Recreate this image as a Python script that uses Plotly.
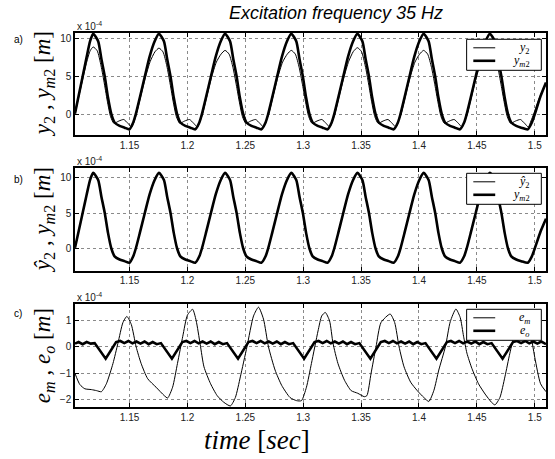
import plotly.graph_objects as go

# ---------------- data ----------------
# time values and y_m2 (thick, x1e-4 m)
t_ym2 = [1.1029, 1.1060, 1.1095, 1.1130, 1.1160, 1.1186,
         1.1229, 1.1257, 1.1286, 1.1314, 1.1343, 1.1371, 1.1414, 1.1457, 1.1500,
         1.1532, 1.1554, 1.1589, 1.1632, 1.1674, 1.1717, 1.1754,
         1.1797, 1.1825, 1.1854, 1.1882, 1.1911, 1.1939, 1.1982, 1.2025, 1.2068,
         1.2103, 1.2125, 1.2160, 1.2203, 1.2245, 1.2288, 1.2325,
         1.2368, 1.2396, 1.2425, 1.2453, 1.2482, 1.2510, 1.2553, 1.2596, 1.2639,
         1.2675, 1.2697, 1.2732, 1.2775, 1.2817, 1.2860, 1.2897,
         1.2940, 1.2968, 1.2997, 1.3025, 1.3054, 1.3082, 1.3125, 1.3168, 1.3211,
         1.3246, 1.3268, 1.3303, 1.3346, 1.3388, 1.3431, 1.3468,
         1.3511, 1.3539, 1.3568, 1.3596, 1.3625, 1.3653, 1.3696, 1.3739, 1.3782,
         1.3818, 1.3840, 1.3875, 1.3918, 1.3960, 1.4003, 1.4040,
         1.4083, 1.4111, 1.4140, 1.4168, 1.4197, 1.4225, 1.4268, 1.4311, 1.4354,
         1.4390, 1.4412, 1.4447, 1.4490, 1.4532, 1.4575, 1.4612,
         1.4655, 1.4683, 1.4712, 1.4740, 1.4769, 1.4797, 1.4840, 1.4883, 1.4940,
         1.4975, 1.5000, 1.5050, 1.5097]
ym2 = [0.1, 2.4, 5.0, 7.6, 9.7, 10.65,
       9.65, 7.3, 5.0, 2.2, 0.0, -1.1, -1.55, -1.78, -2.0,
       -1.1, 0.0, 2.2, 5.0, 7.65, 9.65, 10.65,
       9.65, 7.3, 5.0, 2.2, 0.0, -1.1, -1.55, -1.78, -2.0,
       -1.1, 0.0, 2.2, 5.0, 7.65, 9.65, 10.65,
       9.65, 7.3, 5.0, 2.2, 0.0, -1.1, -1.55, -1.78, -2.0,
       -1.1, 0.0, 2.2, 5.0, 7.65, 9.65, 10.65,
       9.65, 7.3, 5.0, 2.2, 0.0, -1.1, -1.55, -1.78, -2.0,
       -1.1, 0.0, 2.2, 5.0, 7.65, 9.65, 10.65,
       9.65, 7.3, 5.0, 2.2, 0.0, -1.1, -1.55, -1.78, -2.0,
       -1.1, 0.0, 2.2, 5.0, 7.65, 9.65, 10.65,
       9.65, 7.3, 5.0, 2.2, 0.0, -1.1, -1.55, -1.78, -2.0,
       -1.1, 0.0, 2.2, 5.0, 7.65, 9.65, 10.65,
       9.65, 7.3, 5.0, 2.2, 0.0, -1.1, -1.55, -1.78, -2.0,
       -1.1, 0.0, 2.4, 4.2]

# y_2 (thin, measured)
t_y2 = [1.1029, 1.1060, 1.1095, 1.1130, 1.1160, 1.1186,
        1.1221, 1.1254, 1.1283, 1.1311, 1.1336, 1.1365, 1.1408, 1.1450, 1.1486, 1.1519, 1.1541,
        1.1559, 1.1594, 1.1636, 1.1679, 1.1719, 1.1754,
        1.1789, 1.1822, 1.1851, 1.1879, 1.1904, 1.1933, 1.1976, 1.2018, 1.2054, 1.2087, 1.2109,
        1.2130, 1.2165, 1.2207, 1.2250, 1.2290, 1.2325,
        1.2360, 1.2393, 1.2422, 1.2450, 1.2475, 1.2504, 1.2547, 1.2589, 1.2625, 1.2658, 1.2680,
        1.2702, 1.2737, 1.2779, 1.2822, 1.2862, 1.2897,
        1.2932, 1.2965, 1.2994, 1.3022, 1.3047, 1.3076, 1.3119, 1.3161, 1.3197, 1.3230, 1.3252,
        1.3273, 1.3308, 1.3350, 1.3393, 1.3433, 1.3468,
        1.3503, 1.3536, 1.3565, 1.3593, 1.3618, 1.3647, 1.3690, 1.3732, 1.3768, 1.3801, 1.3823,
        1.3845, 1.3880, 1.3922, 1.3965, 1.4005, 1.4040,
        1.4075, 1.4108, 1.4137, 1.4165, 1.4190, 1.4219, 1.4262, 1.4304, 1.4340, 1.4373, 1.4395,
        1.4417, 1.4452, 1.4494, 1.4537, 1.4577, 1.4612,
        1.4647, 1.4680, 1.4709, 1.4737, 1.4762, 1.4791, 1.4834, 1.4876, 1.4912, 1.4945, 1.4967,
        1.4990, 1.5040, 1.5097]
y2 = [0.0, 2.2, 4.6, 6.9, 8.4, 8.9,
      8.4, 6.4, 4.0, 1.5, -0.3, -1.2, -0.9, -0.7, -1.2, -1.7, -0.9,
      0.0, 2.2, 4.8, 7.0, 8.25, 8.75,
      8.25, 6.4, 4.0, 1.5, -0.3, -1.2, -0.9, -0.7, -1.2, -1.7, -0.9,
      0.0, 2.2, 4.8, 6.9, 7.95, 8.45,
      7.95, 6.2, 3.9, 1.5, -0.3, -1.2, -0.9, -0.7, -1.2, -1.7, -0.9,
      0.0, 2.2, 4.8, 6.9, 7.95, 8.45,
      7.95, 6.2, 3.9, 1.5, -0.3, -1.2, -0.9, -0.7, -1.2, -1.7, -0.9,
      0.0, 2.2, 4.8, 7.0, 8.3, 8.8,
      8.3, 6.4, 4.0, 1.5, -0.3, -1.2, -0.9, -0.7, -1.2, -1.7, -0.9,
      0.0, 2.2, 4.8, 6.9, 7.95, 8.45,
      7.95, 6.2, 3.9, 1.5, -0.3, -1.2, -0.9, -0.7, -1.2, -1.7, -0.9,
      0.0, 2.2, 4.8, 6.95, 8.1, 8.6,
      8.1, 6.3, 3.9, 1.5, -0.3, -1.2, -0.9, -0.7, -1.2, -1.7, -0.9,
      0.0, 2.2, 4.0]

# estimated y_2 (hat) - visually identical to y_m2 in panel b
t_yhat2 = list(t_ym2)
yhat2 = list(ym2)

# e_m (thin)
t_em = [1.1029, 1.1071, 1.1114, 1.1170, 1.1215, 1.1257, 1.1300, 1.1357, 1.1400, 1.1443,
        1.1477, 1.1515, 1.1557, 1.1600, 1.1657, 1.1729, 1.1800, 1.1829, 1.1872, 1.1914,
        1.1960, 1.2000, 1.2045, 1.2075, 1.2110, 1.2143, 1.2200, 1.2257, 1.2314, 1.2371,
        1.2414, 1.2457, 1.2514, 1.2571, 1.2614, 1.2657, 1.2700, 1.2757, 1.2814, 1.2886,
        1.2943, 1.2985, 1.3028, 1.3071, 1.3128, 1.3160, 1.3191, 1.3228, 1.3257, 1.3300,
        1.3357, 1.3414, 1.3471, 1.3528, 1.3550, 1.3586, 1.3629, 1.3672, 1.3751, 1.3790,
        1.3828, 1.3871, 1.3928, 1.3985, 1.4042, 1.4085, 1.4128, 1.4171, 1.4228, 1.4270,
        1.4319, 1.4356, 1.4385, 1.4414, 1.4457, 1.4514, 1.4571, 1.4628, 1.4656, 1.4699,
        1.4742, 1.4785, 1.4828, 1.4870, 1.4915, 1.4960, 1.5000, 1.5050, 1.5097]
em = [-1.01, -1.43, -1.59, -1.62, -1.66, -1.70, -1.40, -0.63, 0.14, 0.92,
      1.15, 0.85, 0.00, -0.63, -1.21, -1.53, -1.85, -1.94, -1.53, -0.63,
      0.40, 1.20, 1.42, 1.00, 0.10, -0.76, -1.40, -1.85, -2.10, -2.24,
      -1.92, -1.14, 0.00, 1.17, 1.50, 1.05, 0.00, -0.88, -1.46, -1.92,
      -2.04, -2.04, -1.53, -0.63, 0.60, 1.17, 1.30, 0.98, 0.14, -0.63,
      -1.27, -1.66, -1.76, -1.89, -1.85, -1.01, 0.00, 0.92, 1.24, 0.92,
      0.00, -0.76, -1.34, -1.66, -1.92, -2.07, -1.66, -0.88, 0.00, 0.95,
      1.43, 1.11, 0.40, -0.24, -0.82, -1.40, -1.79, -2.11, -2.20, -1.92,
      -1.14, -0.24, 0.53, 1.05, 1.30, 0.60, -0.40, -1.40, -1.70]

# e_o (thick)
t_eo = [1.1029, 1.1060, 1.1095, 1.1130, 1.1165, 1.1199, 1.1294, 1.1384,
        1.1420, 1.1455, 1.1490, 1.1525, 1.1560, 1.1595, 1.1630, 1.1665, 1.1700, 1.1735,
        1.1771, 1.1866, 1.1956,
        1.1991, 1.2026, 1.2061, 1.2096, 1.2131, 1.2166, 1.2201, 1.2236, 1.2271, 1.2306,
        1.2342, 1.2437, 1.2527,
        1.2562, 1.2597, 1.2632, 1.2667, 1.2702, 1.2737, 1.2772, 1.2807, 1.2842, 1.2877,
        1.2913, 1.3008, 1.3098,
        1.3133, 1.3168, 1.3203, 1.3238, 1.3273, 1.3308, 1.3343, 1.3378, 1.3413, 1.3448,
        1.3485, 1.3580, 1.3670,
        1.3705, 1.3740, 1.3775, 1.3810, 1.3845, 1.3880, 1.3915, 1.3950, 1.3985, 1.4020,
        1.4056, 1.4151, 1.4241,
        1.4276, 1.4311, 1.4346, 1.4381, 1.4416, 1.4451, 1.4486, 1.4521, 1.4556, 1.4591,
        1.4627, 1.4722, 1.4812,
        1.4847, 1.4882, 1.4917, 1.4952, 1.4987, 1.5022, 1.5057, 1.5097]
eo = [0.12, 0.18, 0.10, 0.18, 0.12, 0.14, -0.45, 0.18,
      0.22, 0.14, 0.22, 0.13, 0.20, 0.12, 0.20, 0.10, 0.18, 0.10,
      0.14, -0.45, 0.18,
      0.22, 0.14, 0.22, 0.13, 0.20, 0.12, 0.20, 0.10, 0.18, 0.10,
      0.14, -0.45, 0.18,
      0.22, 0.14, 0.22, 0.13, 0.20, 0.12, 0.20, 0.10, 0.18, 0.10,
      0.14, -0.45, 0.18,
      0.22, 0.14, 0.22, 0.13, 0.20, 0.12, 0.20, 0.10, 0.18, 0.10,
      0.14, -0.45, 0.18,
      0.22, 0.14, 0.22, 0.13, 0.20, 0.12, 0.20, 0.10, 0.18, 0.10,
      0.14, -0.45, 0.18,
      0.22, 0.14, 0.22, 0.13, 0.20, 0.12, 0.20, 0.10, 0.18, 0.10,
      0.14, -0.45, 0.18,
      0.22, 0.14, 0.22, 0.13, 0.20, 0.12, 0.20, 0.10]

x_tickvals = [1.15, 1.2, 1.25, 1.3, 1.35, 1.4, 1.45, 1.5]
x_ticktext = ["1.15", "1.2", "1.25", "1.3", "1.35", "1.4", "1.45", "1.5"]
ya_ticks = [0, 5, 10]
yc_ticks = [-2, -1, 0, 1]

title_text = "Excitation frequency 35 Hz"

# ---------------- layout helpers ----------------
W, H = 555, 459
L, R, T, B = 75, 7, 33, 52
PW, PH = W - L - R, H - T - B


def fx(px):
    return (px - L) / PW


def fy(py):
    return (H - B - py) / PH


SANS = "Liberation Sans, Arial, sans-serif"
SERIF = "Liberation Serif, Times New Roman, serif"

fig = go.Figure()

thick = dict(color="black", width=2.6)
thin = dict(color="black", width=1)

fig.add_trace(go.Scatter(x=t_y2, y=y2, mode="lines", line=dict(**thin, shape="spline", smoothing=0.6),
                         xaxis="x", yaxis="y", showlegend=False))
fig.add_trace(go.Scatter(x=t_ym2, y=ym2, mode="lines", line=dict(**thick, shape="spline", smoothing=0.6),
                         xaxis="x", yaxis="y", showlegend=False))
fig.add_trace(go.Scatter(x=t_yhat2, y=yhat2, mode="lines", line=dict(**thin, shape="spline", smoothing=0.6),
                         xaxis="x2", yaxis="y2", showlegend=False))
fig.add_trace(go.Scatter(x=t_ym2, y=ym2, mode="lines", line=dict(**thick, shape="spline", smoothing=0.6),
                         xaxis="x2", yaxis="y2", showlegend=False))
fig.add_trace(go.Scatter(x=t_em, y=em, mode="lines", line=dict(**thin, shape="spline", smoothing=0.6),
                         xaxis="x3", yaxis="y3", showlegend=False))
fig.add_trace(go.Scatter(x=t_eo, y=eo, mode="lines", line=dict(color="black", width=2.6),
                         xaxis="x3", yaxis="y3", showlegend=False))

axis_common = dict(showline=True, linecolor="black", linewidth=1.5, mirror="ticks",
                   ticks="inside", ticklen=4, tickwidth=1, tickcolor="black",
                   showgrid=True, gridcolor="#8a8a8a", griddash="dot", gridwidth=1,
                   zeroline=False, tickfont=dict(family=SANS, size=10, color="#222"))

xrange_ = [1.1029, 1.5097]
domains = {"a": [fy(135), fy(33)], "b": [fy(270.5), fy(168.3)], "c": [fy(407), fy(304.3)]}

fig.update_layout(
    width=W, height=H, margin=dict(l=L, r=R, t=T, b=B),
    paper_bgcolor="white", plot_bgcolor="white",
    xaxis=dict(**axis_common, range=xrange_, tickvals=x_tickvals, ticktext=x_ticktext,
               anchor="y", domain=[0, 1]),
    xaxis2=dict(**axis_common, range=xrange_, tickvals=x_tickvals, ticktext=x_ticktext,
                anchor="y2", domain=[0, 1]),
    xaxis3=dict(**axis_common, range=xrange_, tickvals=x_tickvals, ticktext=x_ticktext,
                anchor="y3", domain=[0, 1]),
    yaxis=dict(**axis_common, range=[-2.75, 10.75], tickvals=ya_ticks, domain=domains["a"], anchor="x"),
    yaxis2=dict(**axis_common, range=[-3.1, 11.3], tickvals=ya_ticks, domain=domains["b"], anchor="x2"),
    yaxis3=dict(**axis_common, range=[-2.28, 1.61], tickvals=yc_ticks, domain=domains["c"], anchor="x3"),
)

ann = []
# title
ann.append(dict(text="<i>" + title_text + "</i>", x=fx(337), y=fy(13), xref="paper", yref="paper",
                showarrow=False, font=dict(family=SANS, size=18, color="black"),
                xanchor="center", yanchor="middle"))
# exponent labels and panel letters
for py_exp, py_lab, lab in [(26, 40, "a)"), (161, 179, "b)"), (297, 313, "c)")]:
    ann.append(dict(text="x 10<sup>-4</sup>", x=fx(75), y=fy(py_exp), xref="paper", yref="paper",
                    showarrow=False, font=dict(family=SANS, size=10, color="#222"),
                    xanchor="left", yanchor="middle"))
    ann.append(dict(text=lab, x=fx(12), y=fy(py_lab), xref="paper", yref="paper",
                    showarrow=False, font=dict(family=SANS, size=10, color="black"),
                    xanchor="left", yanchor="middle"))
# y-axis labels
ylabels = [
    ("<i>y</i><sub>2</sub> , <i>y</i><sub><i>m</i>2</sub> [<i>m</i>]", 84),
    ("<i>ŷ</i><sub>2</sub> , <i>y</i><sub><i>m</i>2</sub> [<i>m</i>]", 220),
    ("<i>e</i><sub><i>m</i></sub> , <i>e</i><sub><i>o</i></sub> [<i>m</i>]", 356),
]
for txt, pyc in ylabels:
    ann.append(dict(text=txt, x=fx(44), y=fy(pyc), xref="paper", yref="paper", showarrow=False,
                    textangle=-90, font=dict(family=SERIF, size=23, color="black"),
                    xanchor="center", yanchor="middle"))
# x label
ann.append(dict(text="<i>time</i> [<i>sec</i>]", x=fx(258), y=fy(440), xref="paper", yref="paper",
                showarrow=False, font=dict(family=SERIF, size=27, color="black"),
                xanchor="center", yanchor="middle"))

# legends (box + sample lines + labels)
shapes = []
legends = [
    (39.3, ("<i>y</i><sub>2</sub>", "<i>y</i><sub><i>m</i>2</sub>")),
    (173.3, ("<i>ŷ</i><sub>2</sub>", "<i>y</i><sub><i>m</i>2</sub>")),
    (309.3, ("<i>e</i><sub><i>m</i></sub>", "<i>e</i><sub><i>o</i></sub>")),
]
for top, labels in legends:
    shapes.append(dict(type="rect", xref="paper", yref="paper", x0=fx(468.3), x1=fx(543.3),
                       y0=fy(top + 31), y1=fy(top), fillcolor="white",
                       line=dict(color="black", width=1), layer="above"))
    for i, (lab, w) in enumerate(zip(labels, (1, 2.6))):
        py = top + 8.5 + 13 * i
        shapes.append(dict(type="line", xref="paper", yref="paper", x0=fx(475), x1=fx(497),
                           y0=fy(py), y1=fy(py), line=dict(color="black", width=w), layer="above"))
        ann.append(dict(text=lab, x=fx(534), y=fy(py), xref="paper", yref="paper", showarrow=False,
                        font=dict(family=SERIF, size=12, color="black"),
                        xanchor="right", yanchor="middle"))

fig.update_layout(annotations=ann, shapes=shapes)
fig.write_html("out.html", config={"displayModeBar": False},
               post_script="document.body.style.margin='0';")
